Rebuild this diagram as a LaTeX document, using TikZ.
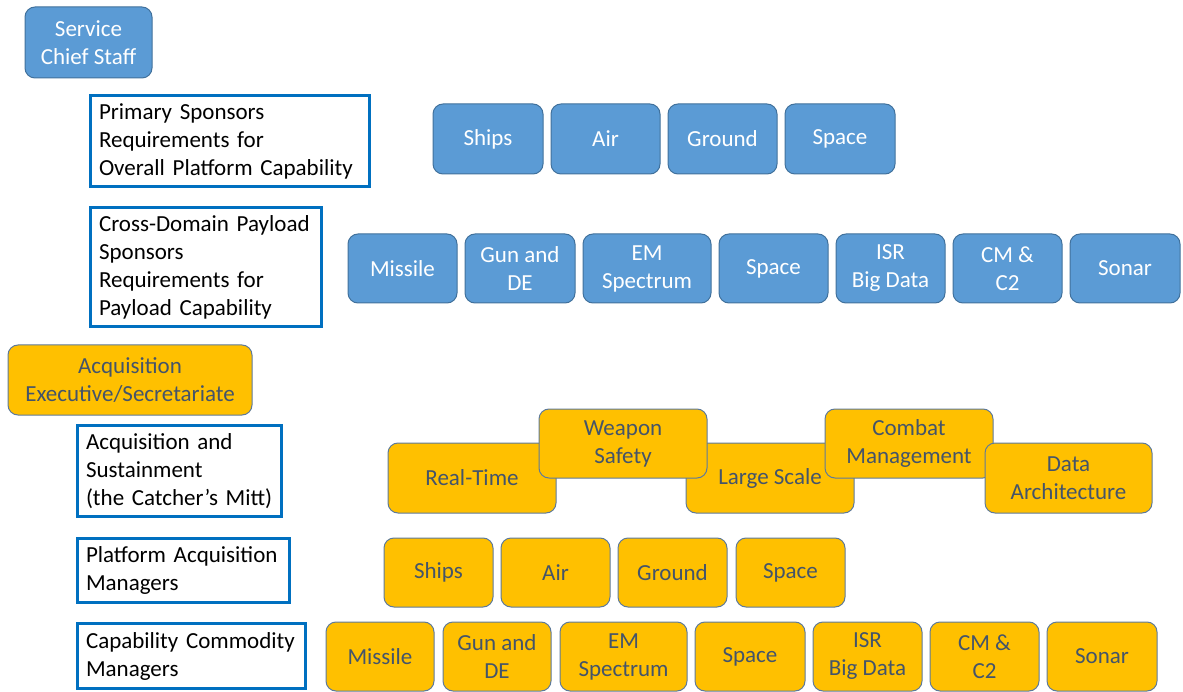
\documentclass[tikz,border=0pt]{standalone}
\usepackage{fontspec}
\setmainfont{Carlito}
\definecolor{bfill}{HTML}{5B9BD5}
\definecolor{bdraw}{HTML}{41719C}
\definecolor{ofill}{HTML}{FFC000}
\definecolor{odraw}{HTML}{5E7A9A}
\definecolor{otext}{HTML}{44546A}
\definecolor{rdraw}{HTML}{0070C0}
\begin{document}
\begin{tikzpicture}[x=1pt,y=-1pt,
  font=\fontsize{23}{28}\selectfont,
  bbox/.style={draw=bdraw, fill=bfill, line width=1pt, rounded corners=10pt, text=white, align=center, inner sep=2pt},
  obox/.style={draw=odraw, fill=ofill, line width=1pt, rounded corners=10pt, text=otext, align=center, inner sep=2pt},
  rbox/.style={draw=rdraw, line width=3pt, fill=white, text=black, align=left, inner xsep=8.5pt, inner ysep=0pt},
  r1/.style={minimum height=70},
  r2/.style={minimum height=69}]
\useasboundingbox (0,0) rectangle (1183,692);
% Service chief
\node[bbox, minimum width=127, minimum height=71] (chief) at (88.5,42.5) {Service\\Chief Staff};
\node[rbox, minimum width=279, minimum height=91, text width=262] (prim) at (230,141) {Primary Sponsors\\Requirements for\\Overall Platform Capability};
\node[bbox, r1, minimum width=110] (bships) at (488,139) {Ships};
\node[bbox, r1, minimum width=109] (bair) at (605.5,139) {Air};
\node[bbox, r1, minimum width=109] (bground) at (722.5,139) {Ground};
\node[bbox, r1, minimum width=110] (bspace) at (840,139) {Space};
\node[rbox, minimum width=231, minimum height=119, text width=214] (cross) at (206,267) {Cross-Domain Payload\\Sponsors\\Requirements for\\Payload Capability};
\node[bbox, r2, minimum width=109] (bmissile) at (402.5,268.5) {Missile};
\node[bbox, r2, minimum width=110] (bgun) at (520,268.5) {Gun and\\DE};
\node[bbox, r2, minimum width=128] (bem) at (647,268.5) {EM\\Spectrum};
\node[bbox, r2, minimum width=109] (bspace2) at (773.5,268.5) {Space};
\node[bbox, r2, minimum width=109] (bisr) at (890.5,268.5) {ISR\\Big Data};
\node[bbox, r2, minimum width=109] (bcm) at (1007.5,268.5) {CM \&\\C2};
\node[bbox, r2, minimum width=110] (bsonar) at (1125,268.5) {Sonar};
% Acquisition
\node[obox, minimum width=244, minimum height=70] (acqexec) at (130,380) {Acquisition\\Executive/Secretariate};
\node[rbox, minimum width=204, minimum height=91, text width=187] (acqs) at (179.5,471) {Acquisition and\\Sustainment\\(the Catcher’s Mitt)};
\node[obox, minimum width=168, minimum height=70] (rt) at (472,478) {Real-Time};
\node[obox, minimum width=168, minimum height=70] (ls) at (770,478) {Large Scale};
\node[obox, minimum width=168, minimum height=69] (ws) at (623,443.5) {Weapon\\Safety};
\node[obox, minimum width=168, minimum height=69] (cmg) at (909,443.5) {Combat\\Management};
\node[obox, minimum width=167, minimum height=70] (da) at (1068.5,478) {Data\\Architecture};
\node[rbox, minimum width=212, minimum height=64, text width=195] (pam) at (183.5,570.5) {Platform Acquisition\\Managers};
\node[obox, r2, minimum width=109] (oships) at (438.5,572.5) {Ships};
\node[obox, r2, minimum width=109] (oair) at (555.5,572.5) {Air};
\node[obox, r2, minimum width=109] (oground) at (672.5,572.5) {Ground};
\node[obox, r2, minimum width=109] (ospace) at (790.5,572.5) {Space};
\node[rbox, minimum width=228, minimum height=65, text width=211] (ccm) at (191.5,656) {Capability Commodity\\Managers};
\node[obox, r2, minimum width=108] (omissile) at (380,656.5) {Missile};
\node[obox, r2, minimum width=108] (ogun) at (497,656.5) {Gun and\\DE};
\node[obox, r2, minimum width=127] (oem) at (623.5,656.5) {EM\\Spectrum};
\node[obox, r2, minimum width=110] (ospace2) at (750,656.5) {Space};
\node[obox, r2, minimum width=109] (oisr) at (867.5,656.5) {ISR\\Big Data};
\node[obox, r2, minimum width=109] (ocm) at (984.5,656.5) {CM \&\\C2};
\node[obox, r2, minimum width=110] (osonar) at (1102,656.5) {Sonar};
\end{tikzpicture}
\end{document}
